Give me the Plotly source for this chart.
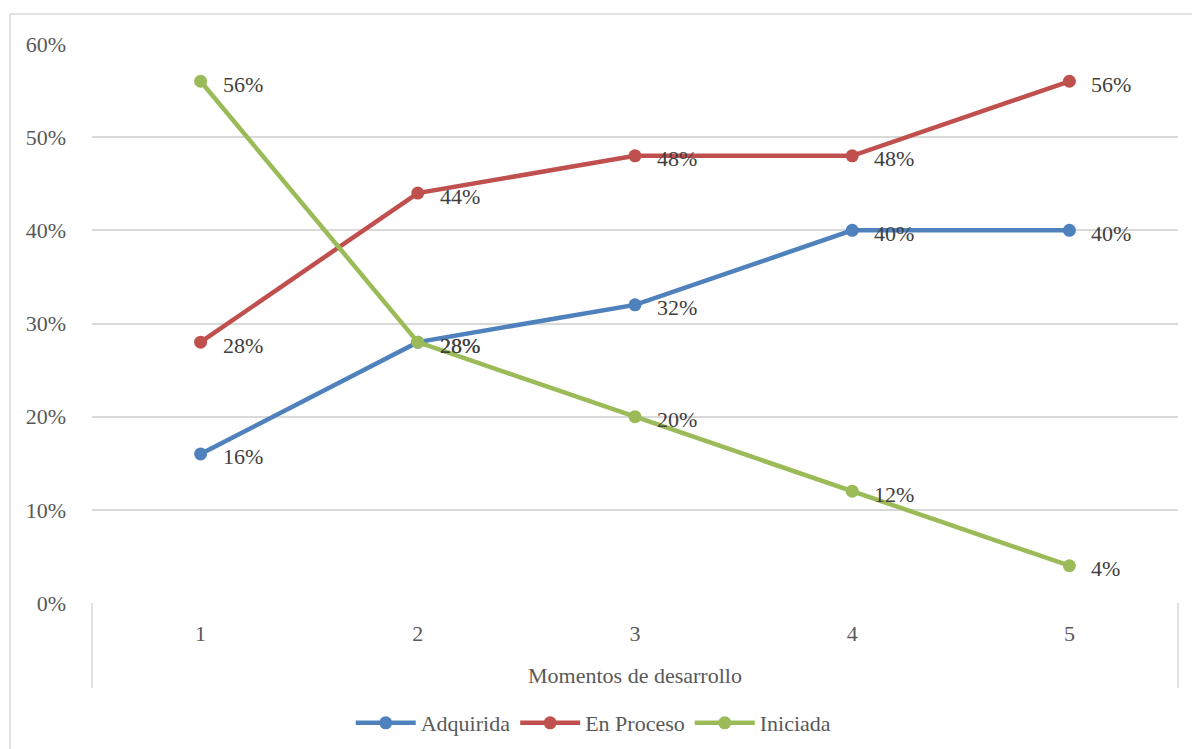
import plotly.graph_objects as go

categories = [1, 2, 3, 4, 5]
adquirida = [0.16, 0.28, 0.32, 0.40, 0.40]
en_proceso = [0.28, 0.44, 0.48, 0.48, 0.56]
iniciada = [0.56, 0.28, 0.20, 0.12, 0.04]
series_names = ["Adquirida", "En Proceso", "Iniciada"]
colors = ["#4F81BD", "#C0504D", "#9BBB59"]
y_ticks = [0, 0.1, 0.2, 0.3, 0.4, 0.5, 0.6]
x_title = "Momentos de desarrollo"

FONT = "Liberation Serif"
FS = 22
fig = go.Figure()
for name, vals, col in zip(series_names, [adquirida, en_proceso, iniciada], colors):
    fig.add_trace(go.Scatter(
        x=categories, y=vals, name=name, mode="lines+markers",
        line=dict(color=col, width=4.5),
        marker=dict(color=col, size=13),
    ))
    for c, v in zip(categories, vals):
        fig.add_annotation(x=c, y=v, text=f"{round(v*100)}%", showarrow=False,
                           xanchor="left", yanchor="middle", xshift=20, yshift=-3,
                           font=dict(family=FONT, size=FS, color="#404040"))

shape_line = dict(color="#D9D9D9", width=1.5)
for xp in [0, 1]:
    fig.add_shape(type="line", xref="paper", yref="paper", x0=xp, x1=xp,
                  y0=0, y1=-0.152, line=shape_line)
fig.add_shape(type="line", xref="paper", yref="paper", x0=-0.0755, x1=-0.0755,
              y0=1.0537, y1=-0.3, line=shape_line)
fig.add_shape(type="line", xref="paper", yref="paper", x0=-0.0755, x1=1.03,
              y0=1.0537, y1=1.0537, line=shape_line)

fig.update_layout(
    width=1192, height=749,
    margin=dict(l=92, r=14, t=44, b=146, autoexpand=False),
    paper_bgcolor="white", plot_bgcolor="white",
    font=dict(family=FONT, size=FS, color="#595959"),
    showlegend=True,
    legend=dict(orientation="h", x=0.462, xanchor="center", y=-0.2147, yanchor="middle",
                font=dict(family=FONT, size=FS, color="#595959"),
                itemwidth=60, tracegroupgap=0),
    xaxis=dict(range=[0.5, 5.5], tickmode="array", tickvals=categories,
               ticktext=[str(c) for c in categories], showgrid=False, zeroline=False,
               showline=False, ticks="", ticklabelstandoff=15, automargin=False,
               tickfont=dict(family=FONT, size=FS, color="#595959"),
               title=dict(text=x_title, standoff=22,
                          font=dict(family=FONT, size=FS, color="#595959"))),
    yaxis=dict(range=[0, 0.6], tickmode="array", tickvals=y_ticks,
               ticktext=[f"{round(t*100)}%" for t in y_ticks],
               showgrid=True, gridcolor="#D9D9D9", gridwidth=1.5, automargin=False,
               zeroline=False, showline=False, ticks="", ticklabelstandoff=25,
               tickfont=dict(family=FONT, size=FS, color="#595959")),
)
fig.write_html("out.html")
